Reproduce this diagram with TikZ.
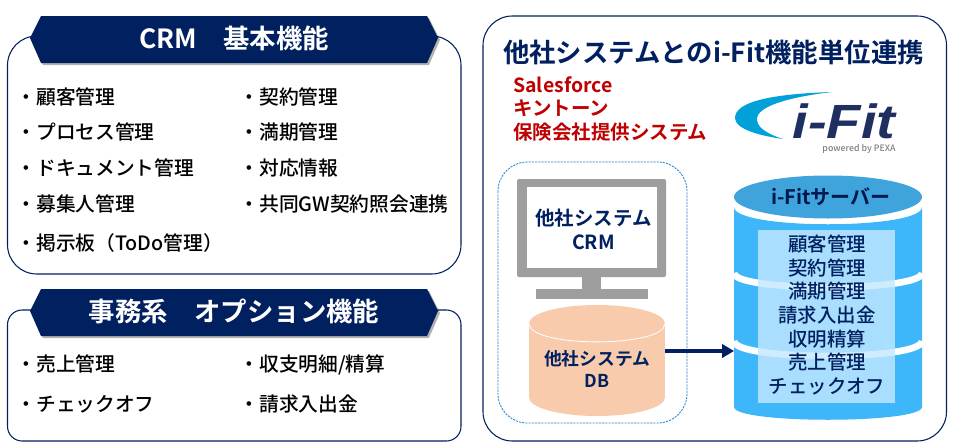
\documentclass[tikz,border=0pt]{standalone}
\usepackage{fontspec}
\setmainfont{Noto Sans CJK JP}[UprightFont=* Medium,BoldFont=* Bold]
\newfontfamily\logofont{Liberation Sans}[UprightFont=* Bold Italic]
\usetikzlibrary{shadows,arrows.meta}
\definecolor{navy}{HTML}{002060}
\definecolor{crimson}{HTML}{C00000}
\definecolor{monitorgray}{HTML}{9E9E9E}
\definecolor{dbpeach}{HTML}{F8CBAD}
\definecolor{srvblue}{HTML}{3DB7FA}
\definecolor{srvtop}{HTML}{3FA3DC}
\definecolor{srvinner}{HTML}{C4E8FF}
\definecolor{dashblue}{HTML}{1F7FC8}
\definecolor{logoblue}{HTML}{00A0D8}
\definecolor{logonavy}{HTML}{1F3060}
\tikzset{
    panelbox/.style={draw=navy, line width=0.8pt, fill=white, rounded corners=22pt},
    banner/.style={fill=navy, drop shadow={shadow xshift=1.5pt, shadow yshift=-1.5pt, opacity=0.3, fill=black}},
    bannertext/.style={text=white, font=\fontsize{19.8}{23}\selectfont\bfseries, inner sep=0pt},
    listitem/.style={anchor=west, inner sep=0pt, text=black, font=\fontsize{14.8}{17}\selectfont, text height=13pt, text depth=2pt},
    navytext/.style={text=navy, align=center, inner sep=0pt, font=\fontsize{14.6}{17.8}\selectfont\bfseries},
    bodybox/.style={inner sep=0pt, outer sep=0pt},
    bandline/.style={draw=white, line width=5pt},
}
\begin{document}
\begin{tikzpicture}[x=0.75pt, y=-0.75pt]
    \useasboundingbox (0,0) rectangle (957,447);

    \draw[panelbox] (7.5,36) rectangle (461,274);
    \draw[panelbox, rounded corners=11pt] (7.5,310) rectangle (461,441);
    \draw[panelbox] (483,16) rectangle (946.5,441);

    \fill[banner] (30,38) -- (41,16) -- (427,16) -- (438,38) -- (427,63) -- (41,63) -- cycle;
    \fill[banner] (30,311) -- (41,289) -- (427,289) -- (438,311) -- (427,336) -- (41,336) -- cycle;
    \node[bannertext] (crmtitle) at (234,38) {CRM　基本機能};
    \node[bannertext] (opttitle) at (234,311) {事務系　オプション機能};

    \node[listitem] (kokyaku) at (16.3,97) {・顧客管理};
    \node[listitem] (process) at (16.3,132.5) {・プロセス管理};
    \node[listitem] (document) at (16.3,168) {・ドキュメント管理};
    \node[listitem] (boshu) at (16.3,204) {・募集人管理};
    \node[listitem] (keiji) at (16.3,243) {・掲示板（ToDo管理）};
    \node[listitem] (keiyaku) at (239.3,97) {・契約管理};
    \node[listitem] (manki) at (239.3,132.5) {・満期管理};
    \node[listitem] (taio) at (239.3,168) {・対応情報};
    \node[listitem] (kyodo) at (239.3,204) {・共同GW契約照会連携};
    \node[listitem] (uriage) at (16.3,364) {・売上管理};
    \node[listitem] (check) at (16.3,404.5) {・チェックオフ};
    \node[listitem] (shushi) at (239.3,364) {・収支明細/精算};
    \node[listitem] (seikyu) at (239.3,404.5) {・請求入出金};

    \node[navytext, font=\fontsize{19.8}{23}\selectfont\bfseries] (linktitle) at (713.5,52.5) {他社システムとのi-Fit機能単位連携};
    \node[navytext, text=crimson, align=left, anchor=west] (partners) at (513,109) {Salesforce\\キントーン\\保険会社提供システム};

    \fill[logoblue] (832,92) .. controls (770,94) and (735,102) .. (735,118) .. controls (735,128) and (755,135) .. (783,139) .. controls (765,133) and (757,127) .. (757,119) .. controls (757,106) and (790,97) .. (832,92);
    \node[inner sep=0pt, text=logonavy, font=\logofont\fontsize{36}{37}\selectfont, xscale=1.17, anchor=base] (logo) at (844,138.5) {i-Fit};
    \node[inner sep=0pt, text=gray, font=\fontsize{6.6}{7}\selectfont, text height=4.5pt, text depth=1pt] (powered) at (859,149) {powered by PEXA};

    \draw[dashblue, dash pattern=on 1.6pt off 0.8pt, line width=0.6pt, rounded corners=22pt] (498,162) rectangle (687,423);

    \fill[monitorgray, rounded corners=1.5pt] (517,179) rectangle (666,277);
    \fill[white] (527,187) rectangle (657,268);
    \fill[monitorgray] (582,277) rectangle (601,290);
    \fill[monitorgray] (536,289) rectangle (648,299);
    \node[navytext] (crmbox) at (593.5,229.5) {他社システム\\CRM};

    \node[bodybox, fill=dbpeach, minimum width=102pt, minimum height=55.5pt] (db) at (597,360.5) {};
    \fill[dbpeach] (597,323.5) ellipse (68 and 18.5);
    \fill[dbpeach] (597,397.5) ellipse (68 and 18.5);
    \draw[white, line width=0.6pt] (529,323.5) .. controls (529,348) and (665,348) .. (665,323.5);
    \node[navytext, font=\fontsize{13.3}{16}\selectfont\bfseries] (dbtext) at (597,369) {他社システム\\DB};

    \fill[srvblue] (734,207) .. controls (734,230) and (922,230) .. (922,207) -- (922,407) .. controls (922,424) and (734,424) .. (734,407) -- cycle;
    \node[bodybox, minimum width=141pt, minimum height=150pt] (srv) at (828,307) {};
    \draw[bandline] (734,273) .. controls (734,292) and (922,292) .. (922,273);
    \draw[bandline] (734,341) .. controls (734,361) and (922,361) .. (922,341);
    \fill[srvtop] (828,197) ellipse (94 and 21.5);
    \fill[srvinner, opacity=0.8] (758,230) rectangle (895,403);
    \node[navytext, text=black!20!navy, font=\fontsize{15}{17.8}\selectfont\bfseries] (srvtitle) at (831,197) {i-Fitサーバー};
    \node[navytext, font=\fontsize{14.6}{17.8}\selectfont] (srvlist) at (827,315) {顧客管理\\契約管理\\満期管理\\請求入出金\\収明精算\\売上管理\\チェックオフ};

    \coordinate (linky) at (700,351);
    \draw[-{Triangle[length=9pt,width=10pt]}, navy, line width=3.5pt] (db.east |- linky) -- (srv.west |- linky);
\end{tikzpicture}
\end{document}
